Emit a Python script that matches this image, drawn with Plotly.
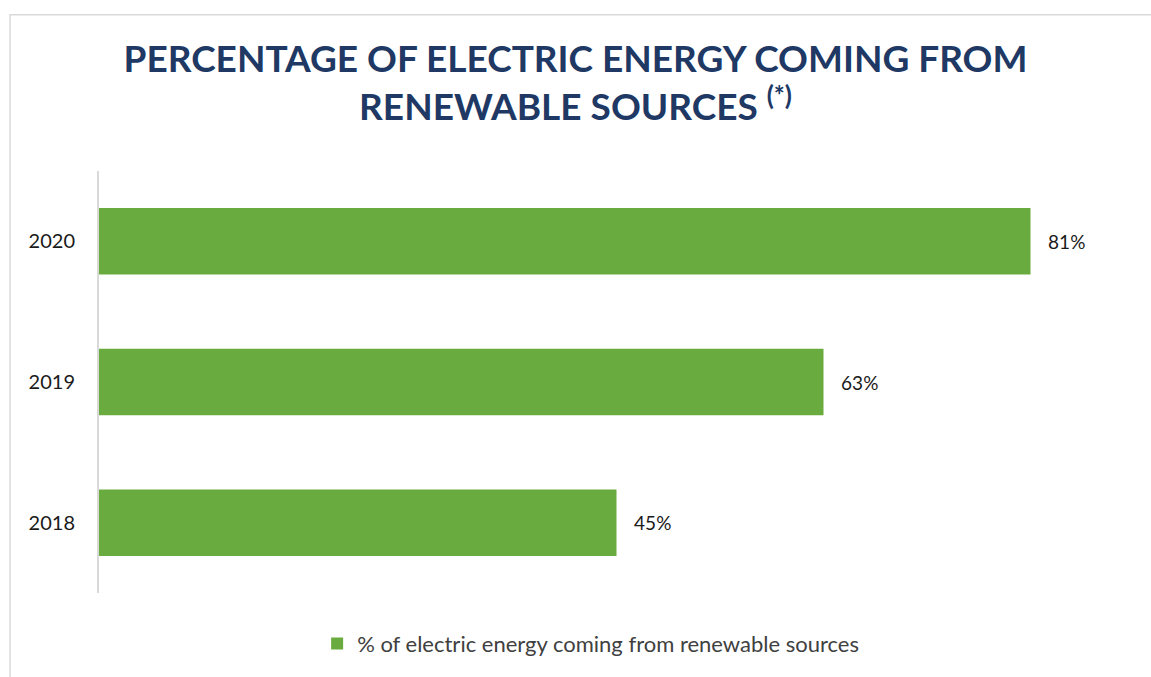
import plotly.graph_objects as go

years = ["2018", "2019", "2020"]
values = [45, 63, 81]
series_name = "% of electric energy coming from renewable sources"
title_line1 = "PERCENTAGE OF ELECTRIC ENERGY COMING FROM"
title_line2 = "RENEWABLE SOURCES"
title_note = "(*)"

FONT = "Lato"
GREEN = "#6aab3f"
NAVY = "#203864"

fig = go.Figure()
fig.add_trace(go.Bar(
    y=years, x=values, orientation="h", name=series_name,
    marker=dict(color=GREEN, line=dict(width=0)),
    text=[f"{v}%" for v in values],
    texttemplate="\u00a0\u00a0\u00a0%{text}",
    textposition="outside", cliponaxis=False,
    textfont=dict(family=FONT, size=19, color="#1a1a1a"),
    showlegend=True,
))

fig.update_layout(
    width=1151, height=677,
    margin=dict(l=99, r=17, t=171, b=82),
    paper_bgcolor="white", plot_bgcolor="white",
    bargap=0.527,
    title=dict(
        text=f"<b>{title_line1}<br>{title_line2} <sup>{title_note}</sup></b>",
        x=0.5, xanchor="center", y=1 - 72 / 677, yanchor="top",
        font=dict(family=FONT, size=37, color=NAVY),
    ),
    xaxis=dict(range=[0, 90], visible=False, fixedrange=True),
    yaxis=dict(
        showline=True, linecolor="#d9d9d9", linewidth=2,
        showgrid=False, ticks="", ticklabelstandoff=18,
        tickfont=dict(family=FONT, size=20, color="#1a1a1a"),
    ),
    legend=dict(
        orientation="h", x=0.475, xanchor="center", y=-0.12, yanchor="middle",
        font=dict(family=FONT, size=22, color="#404040"),
    ),
    shapes=[dict(
        type="rect", xref="paper", yref="paper",
        x0=(10 - 99) / 1035, x1=(1160 - 99) / 1035,
        y0=-(690 - 595) / 424, y1=(595 - 14) / 424,
        line=dict(color="#d9d9d9", width=1.5), fillcolor="rgba(0,0,0,0)",
        layer="below",
    )],
)

fig.write_html("out.html")
